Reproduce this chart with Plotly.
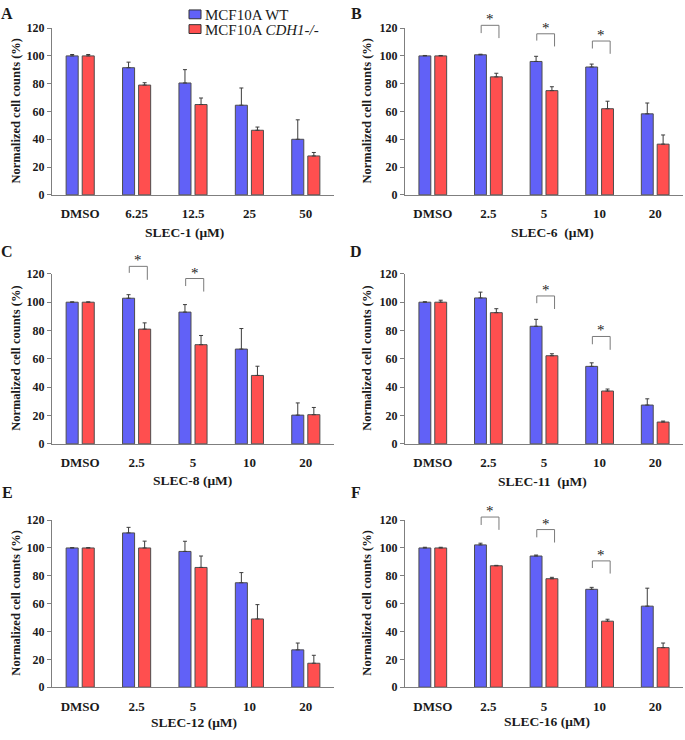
import plotly.graph_objects as go

FONT = "Liberation Serif"
TXT = "#1a1a1a"
AXC = "#7f7f7f"
BLUE = "#6161f7"
RED = "#ff4f4f"
YMAX = 120

# ---------------- data ----------------
cats_slec1 = ["DMSO", "6.25", "12.5", "25", "50"]
cats_dose = ["DMSO", "2.5", "5", "10", "20"]

A_wt = [100, 91.5, 80.5, 64.5, 40.0]
A_wt_err = [1.0, 4.0, 9.6, 12.4, 14.0]
A_ko = [100, 79.0, 65.0, 46.5, 28.0]
A_ko_err = [1.0, 1.7, 4.7, 2.3, 2.5]

B_wt = [100, 100.8, 96.0, 92.0, 58.3]
B_wt_err = [0.3, 0.4, 3.7, 2.1, 7.8]
B_ko = [100, 84.9, 75.0, 62.0, 36.5]
B_ko_err = [0.3, 2.6, 2.8, 5.4, 6.6]

C_wt = [100, 102.8, 93.0, 66.9, 20.3]
C_wt_err = [0.2, 2.5, 5.3, 14.5, 8.6]
C_ko = [100, 81.0, 70.0, 48.3, 20.6]
C_ko_err = [0.2, 4.4, 6.5, 6.5, 5.1]

D_wt = [100, 103.0, 83.0, 54.7, 27.4]
D_wt_err = [0.3, 4.1, 4.9, 2.5, 4.4]
D_ko = [100, 92.6, 62.2, 37.3, 15.4]
D_ko_err = [1.4, 2.8, 1.4, 1.4, 0.7]

E_wt = [100, 110.8, 97.5, 75.0, 26.8]
E_wt_err = [0.2, 4.0, 7.3, 7.3, 4.9]
E_ko = [100, 100.0, 86.0, 49.0, 17.2]
E_ko_err = [0.2, 4.9, 8.2, 10.3, 5.7]

F_wt = [100, 102.2, 94.2, 70.3, 58.2]
F_wt_err = [0.5, 1.2, 0.7, 1.4, 12.9]
F_ko = [100, 87.2, 77.9, 47.4, 28.4]
F_ko_err = [0.5, 0.3, 1.0, 1.4, 3.3]

# significance brackets: (category index, bracket top, left leg bottom, right leg bottom)
B_sig = [(1, 122.0, 116.4, 112.8), (2, 115.9, 111.0, 106.8), (3, 110.7, 105.3, 101.5)]
C_sig = [(1, 125.3, 120.7, 115.8), (2, 116.7, 111.4, 107.5)]
D_sig = [(2, 104.4, 99.3, 95.2), (3, 75.8, 70.3, 66.4)]
F_sig = [(1, 122.2, 116.5, 113.0), (2, 113.2, 107.6, 103.9), (3, 90.7, 85.6, 81.6)]

series_names = ["MCF10A WT", "MCF10A <i>CDH1-/-</i>"]

panels = [
    dict(letter="A", title="SLEC-1 (μM)", cats=cats_slec1, wt=A_wt, wte=A_wt_err, ko=A_ko, koe=A_ko_err, sig=[]),
    dict(letter="B", title="SLEC-6  (μM)", cats=cats_dose, wt=B_wt, wte=B_wt_err, ko=B_ko, koe=B_ko_err, sig=B_sig),
    dict(letter="C", title="SLEC-8 (μM)", cats=cats_dose, wt=C_wt, wte=C_wt_err, ko=C_ko, koe=C_ko_err, sig=C_sig),
    dict(letter="D", title="SLEC-11  (μM)", cats=cats_dose, wt=D_wt, wte=D_wt_err, ko=D_ko, koe=D_ko_err, sig=D_sig),
    dict(letter="E", title="SLEC-12 (μM)", cats=cats_dose, wt=E_wt, wte=E_wt_err, ko=E_ko, koe=E_ko_err, sig=[]),
    dict(letter="F", title="SLEC-16 (μM)", cats=cats_dose, wt=F_wt, wte=F_wt_err, ko=F_ko, koe=F_ko_err, sig=F_sig),
]

# ---------------- layout geometry (pixels) ----------------
W, H = 685, 740
col_px = [(52, 334), (405, 683)]
row_px = [(21.5, 191.5), (272.0, 445.3), (523.0, 693.3)]  # (top, bottom)
xtitle_px = [(184, 230), (552, 230), (192, 483), (542, 484), (194, 729), (547, 728)]
ytitle_x = [16, 367]
letter_px = [(7, 7), (356, 7), (7, 249), (356, 249), (7, 495), (356, 495)]


def px_x(x):
    return x / W


def px_y(y):
    return 1 - y / H


fig = go.Figure()
layout = dict(
    width=W, height=H, margin=dict(l=0, r=0, t=0, b=0, pad=0),
    paper_bgcolor="white", plot_bgcolor="white",
    barmode="group", bargap=0.43, bargroupgap=0.25,
    showlegend=False,
    font=dict(family=FONT, color=TXT),
)
shapes = []
annotations = []

for i, p in enumerate(panels):
    r, c = divmod(i, 2)
    n = "" if i == 0 else str(i + 1)
    xa, ya = "x" + n, "y" + n
    xpos = list(range(len(p["cats"])))
    for vals, errs, color, name in [(p["wt"], p["wte"], BLUE, series_names[0]),
                                    (p["ko"], p["koe"], RED, series_names[1])]:
        fig.add_trace(go.Bar(
            x=xpos, y=vals, name=name, xaxis=xa, yaxis=ya,
            marker=dict(color=color, line=dict(color="#4d4d4d", width=1)),
            error_y=dict(type="data", array=errs, arrayminus=[0] * len(errs), symmetric=False,
                         color="#3c3c3c", thickness=1, width=2),
            hoverinfo="skip",
        ))
    x0, x1 = col_px[c]
    top, bot = row_px[r]
    layout["xaxis" + n] = dict(
        domain=[px_x(x0), px_x(x1)], anchor=ya, range=[-0.5, len(xpos) - 0.5],
        tickmode="array", tickvals=xpos, ticktext=p["cats"],
        showline=True, linecolor=AXC, linewidth=1, ticks="outside", ticklen=7,
        tickcolor="rgba(0,0,0,0)", showgrid=False, zeroline=False,
        tickfont=dict(family=FONT, size=13, color=TXT, weight="bold"),
    )
    layout["yaxis" + n] = dict(
        domain=[px_y(bot), px_y(top)], anchor=xa, range=[0, YMAX],
        tickmode="linear", tick0=0, dtick=20,
        showline=True, linecolor=AXC, linewidth=1, ticks="outside", ticklen=4,
        tickcolor=AXC, showgrid=False, zeroline=False,
        tickfont=dict(family=FONT, size=12, color=TXT, weight="bold"),
    )
    tx, ty = xtitle_px[i]
    annotations.append(dict(text="<b>" + p["title"] + "</b>", xref="paper", yref="paper",
                            x=px_x(tx), y=px_y(ty), showarrow=False, xanchor="center", yanchor="middle",
                            font=dict(family=FONT, size=13.5, color=TXT)))
    annotations.append(dict(text="<b>Normalized cell counts (%)</b>", xref="paper", yref="paper",
                            x=px_x(ytitle_x[c]), y=px_y((top + bot) / 2), textangle=-90,
                            showarrow=False, xanchor="center", yanchor="middle",
                            font=dict(family=FONT, size=12.5, color=TXT)))
    lx, ly = letter_px[i]
    annotations.append(dict(text="<b>" + p["letter"] + "</b>", xref="paper", yref="paper",
                            x=px_x(lx), y=px_y(ly), showarrow=False, xanchor="center", yanchor="middle",
                            font=dict(family=FONT, size=16, color=TXT)))
    yd = ya + " domain"
    for (k, btop, lb, rb) in p["sig"]:
        xl, xr = k - 0.13, k + 0.19
        for (ax0, ay0, ax1, ay1) in [(xl, lb, xl, btop), (xl, btop, xr, btop), (xr, btop, xr, rb)]:
            shapes.append(dict(type="line", xref=xa, yref=yd, x0=ax0, x1=ax1,
                               y0=ay0 / YMAX, y1=ay1 / YMAX, line=dict(color="#7a7a7a", width=1)))
        annotations.append(dict(text="*", xref=xa, yref=yd, x=(xl + xr) / 2, y=btop / YMAX,
                                yanchor="bottom", xanchor="center", showarrow=False, yshift=-4,
                                font=dict(family=FONT, size=15, color="#222222")))

# legend (custom, top of panel A)
leg_rows = [(BLUE, 3, 12, 8), (RED, 18, 27, 23)]
for (color, yt, yb, yc), name in zip(leg_rows, series_names):
    shapes.append(dict(type="rect", xref="paper", yref="paper", x0=px_x(189), x1=px_x(201),
                       y0=px_y(yb), y1=px_y(yt), fillcolor=color, line=dict(color="#333333", width=1)))
    annotations.append(dict(text=name, xref="paper", yref="paper", x=px_x(203), y=px_y(yc),
                            xanchor="left", yanchor="middle", showarrow=False,
                            font=dict(family=FONT, size=15, color=TXT)))

layout["shapes"] = shapes
layout["annotations"] = annotations
fig.update_layout(**layout)

post = """
document.documentElement.style.margin='0';
document.documentElement.style.padding='0';
document.documentElement.style.overflow='hidden';
document.body.style.margin='0';
document.body.style.padding='0';
document.body.style.overflow='hidden';
var gd = document.getElementById('{plot_id}');
gd.style.position='fixed'; gd.style.left='0px'; gd.style.top='0px';
window.scrollTo(0, 0);
"""

fig.write_html("out.html", config={"displayModeBar": False, "responsive": False}, post_script=post)
